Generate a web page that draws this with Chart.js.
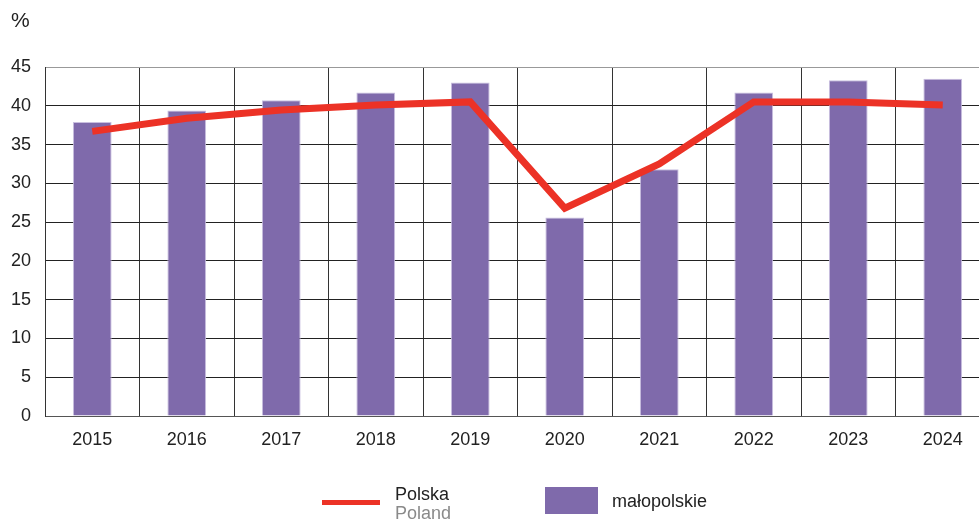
<!DOCTYPE html>
<html>
<head>
<meta charset="utf-8">
<script src="https://cdn.jsdelivr.net/npm/chart.js@4"></script>
<style>
  html, body { margin: 0; padding: 0; background: #fff; overflow: hidden; }
  body { width: 979px; height: 521px; position: relative; font-family: "Liberation Sans", Arial, sans-serif; }
  #wrap { position: absolute; left: 0; top: 0; width: 1000px; height: 521px; }
  #unit { position: absolute; left: 11px; top: 8px; font-size: 21px; color: #222; }
  .legend { position: absolute; font-size: 18px; color: #222; }
  .swatch-line { position: absolute; left: 322px; top: 500px; width: 58px; height: 5px; background: #ec3226; }
  .swatch-box { position: absolute; left: 545px; top: 487px; width: 53px; height: 27px; background: #7f6aab; }
</style>
</head>
<body>
<div id="wrap"><canvas id="myChart" width="1000" height="521"></canvas></div>
<div id="unit">%</div>
<div class="swatch-line"></div>
<div class="legend" style="left:395px; top:485px; line-height:19px;">Polska<br><span style="color:#8a8a8a">Poland</span></div>
<div class="swatch-box"></div>
<div class="legend" style="left:612px; top:491px;">małopolskie</div>
<script>
(() => {
  'use strict';
  const years = ['2015', '2016', '2017', '2018', '2019', '2020', '2021', '2022', '2023', '2024'];
  const malopolskie = [37.9, 39.4, 40.7, 41.7, 43.0, 25.6, 31.8, 41.7, 43.3, 43.5];
  const polska = [36.7, 38.4, 39.45, 40.1, 40.5, 26.8, 32.5, 40.5, 40.5, 40.1];

  const ctx = document.getElementById('myChart');
  // eslint-disable-next-line no-unused-vars
  const myChart = new Chart(ctx, {
    data: {
      labels: years,
      datasets: [{
        type: 'line',
        label: 'Polska',
        data: polska,
        borderColor: '#ec3226',
        borderWidth: 7,
        pointRadius: 0,
        tension: 0,
        order: 0
      }, {
        type: 'bar',
        label: 'małopolskie',
        data: malopolskie,
        backgroundColor: '#7f6aab',
        borderColor: '#c9bfdf',
        borderWidth: 1,
        barPercentage: 0.41,
        categoryPercentage: 1,
        order: 1
      }]
    },
    options: {
      responsive: false,
      animation: false,
      layout: { padding: { top: 67, right: 10, left: 0, bottom: 0 } },
      plugins: {
        legend: { display: false },
        tooltip: { enabled: false }
      },
      scales: {
        x: {
          grid: { color: '#333', lineWidth: 1, drawTicks: false, offset: true },
          border: { color: '#555', width: 1 },
          ticks: { color: '#222', padding: 13, font: { family: 'Liberation Sans', size: 18 } },
          afterFit: (scale) => { scale.height = 105; }
        },
        y: {
          min: 0,
          max: 45,
          ticks: { stepSize: 5, color: '#222', padding: 14, font: { family: 'Liberation Sans', size: 18 } },
          grid: {
            drawTicks: false,
            lineWidth: 1,
            color: (c) => (c.tick && c.tick.value === 45 ? '#999' : '#222')
          },
          border: { color: '#333', width: 1 },
          afterFit: (scale) => { scale.width = 45; }
        }
      }
    }
  });
})();
</script>
</body>
</html>
